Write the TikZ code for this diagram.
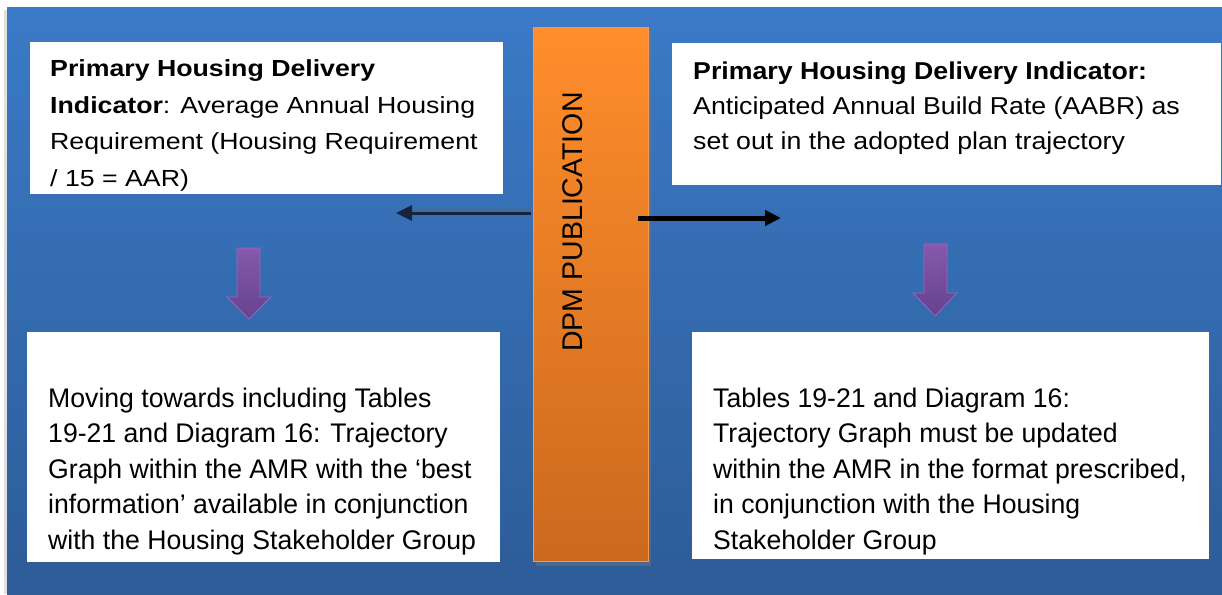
\documentclass[tikz,border=0pt]{standalone}
\usepackage{fontspec}
\setmainfont{Liberation Sans}
\newfontfamily\fTL{Liberation Sans}[FakeStretch=1.146]
\newfontfamily\fTR{Liberation Sans}[FakeStretch=1.094]
\newfontfamily\fBT{Liberation Sans}[FakeStretch=0.99]
\newfontfamily\fDPM{Liberation Sans}
\usetikzlibrary{arrows.meta,shadows}
\definecolor{blueTop}{HTML}{3B7AC7}
\definecolor{blueBot}{HTML}{2D5C97}
\definecolor{orTop}{HTML}{FF8D2B}
\definecolor{orBot}{HTML}{CB691E}
\definecolor{orEdge}{HTML}{F59A4E}
\definecolor{puTop}{HTML}{8559AC}
\definecolor{puBot}{HTML}{66428F}
\definecolor{puEdge}{HTML}{9468BE}
\definecolor{navyArrow}{HTML}{14243F}
\tikzset{
  whitebox/.style={fill=white, draw=none, inner sep=0, anchor=north west},
  txt/.style={inner sep=0, anchor=north west, align=left, text=black},
  bar/.style={top color=orTop, bottom color=orBot, draw=orEdge, line width=0.8pt,
    drop shadow={opacity=0.35, shadow xshift=3pt, shadow yshift=-5pt}},
  thinarrow/.style={draw=navyArrow, line width=3pt, -{Triangle[length=16pt,width=15pt]}},
  thickarrow/.style={draw=black, line width=5pt, -{Triangle[length=16pt,width=15pt]}},
  blockarrow/.style={top color=puTop, bottom color=puBot, draw=puEdge, line width=0.8pt}
}
\begin{document}
\begin{tikzpicture}[x=1pt,y=-1pt]
\useasboundingbox (0,0) rectangle (1222,594);
\fill[white] (0,0) rectangle (1222,594);
% panel
\fill[black!12] (4,10) rectangle (1222,594);
\shade[top color=blueTop, bottom color=blueBot] (7,8) rectangle (1222,594);

% white boxes
\node[whitebox, minimum width=473pt, minimum height=152pt] (tlbox) at (30,42) {};
\node[whitebox, minimum width=549pt, minimum height=142pt] (trbox) at (672,43) {};
\node[whitebox, minimum width=473pt, minimum height=230pt] (blbox) at (27,332) {};
\node[whitebox, minimum width=517pt, minimum height=227pt] (brbox) at (692,332) {};

% orange bar
\node[bar, anchor=north west, minimum width=115pt, minimum height=534pt, inner sep=0] (dpm) at (533,27) {};
\node[rotate=90, inner sep=0, font={\fontsize{28.5}{30}\selectfont\fDPM}] (dpmtxt) at (573,222) {DPM PUBLICATION};

% horizontal arrows
\coordinate (lstart) at (531,213);
\coordinate (lend) at (396,213);
\coordinate (rstart) at (638,218);
\coordinate (rend) at (781,218);
\draw[draw=black!60, line width=5pt, opacity=0.22] ([yshift=3pt]lstart) -- ([xshift=14pt, yshift=3pt]lend);
\draw[thinarrow] (lstart) -- (lend);
\draw[thickarrow] (rstart) -- (rend);

% purple block arrows
\draw[blockarrow] (237,248) -- (260,248) -- (260,297) -- (271,297) -- (249,319) -- (227,297) -- (237,297) -- cycle;
\draw[blockarrow] (924,244) -- (947,244) -- (947,293) -- (957,293) -- (935,316) -- (913,293) -- (924,293) -- cycle;

% texts
\node[txt, font={\fontsize{23.3}{36.4}\selectfont\fTL}] (tltxt) at (50,51.2)
 {\strut\textbf{Primary Housing Delivery}\\
  \textbf{Indicator}: Average Annual Housing\\
  Requirement (Housing Requirement\\
  / 15 = AAR)};
\node[txt, font={\fontsize{24.4}{35}\selectfont\fTR}] (trtxt) at (693,54.5)
 {\strut\textbf{Primary Housing Delivery Indicator:}\\
  Anticipated Annual Build Rate (AABR) as\\
  set out in the adopted plan trajectory};
\node[txt, font={\fontsize{26.9}{35.5}\selectfont\fBT}] (bltxt) at (48,382.1)
 {\strut Moving towards including Tables\\
  19-21 and Diagram 16: Trajectory\\
  Graph within the AMR with the ‘best\\
  information’ available in conjunction\\
  with the Housing Stakeholder Group};
\node[txt, font={\fontsize{26.9}{35.5}\selectfont\fBT}] (brtxt) at (713,382.1)
 {\strut Tables 19-21 and Diagram 16:\\
  Trajectory Graph must be updated\\
  within the AMR in the format prescribed,\\
  in conjunction with the Housing\\
  Stakeholder Group};
\end{tikzpicture}
\end{document}
